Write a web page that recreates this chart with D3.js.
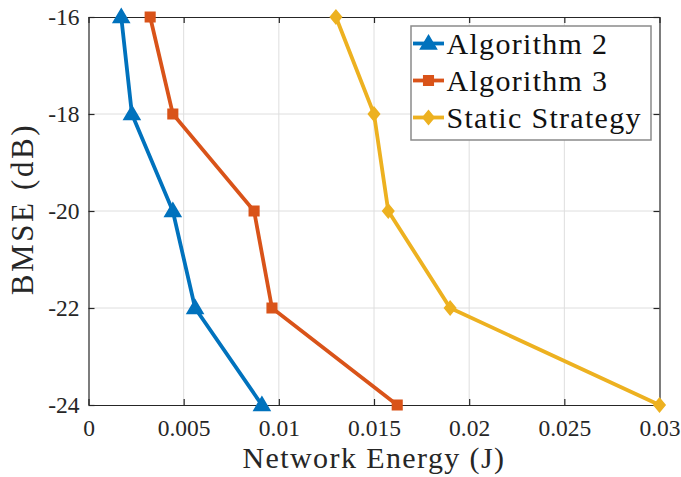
<!DOCTYPE html>
<html>
<head>
<meta charset="utf-8">
<script src="https://cdn.jsdelivr.net/npm/d3@7"></script>
</head>
<body style="margin:0;background:#fff">
<svg id="chart" width="681" height="477"></svg>
<script>
// BMSE levels (dB) shared by all curves
const bmse = [-16, -18, -20, -22, -24];
// Network energy (J) needed at each BMSE level
const alg2Energy = [0.00172, 0.00228, 0.00443, 0.0056, 0.00911];
const alg3Energy = [0.00324, 0.00443, 0.0087, 0.00964, 0.01622];
const staticEnergy = [0.0130, 0.0150, 0.01575, 0.0190, 0.0300];

const seriesNames = ["Algorithm 2", "Algorithm 3", "Static Strategy"];
const seriesColors = ["#0072BD", "#D95319", "#EDB120"];
const seriesMarkers = ["triangle", "square", "diamond"];

const xTicks = [0, 0.005, 0.01, 0.015, 0.02, 0.025, 0.03];
const xTickLabels = ["0", "0.005", "0.01", "0.015", "0.02", "0.025", "0.03"];
const yTicks = [-16, -18, -20, -22, -24];
const yTickLabels = ["-16", "-18", "-20", "-22", "-24"];

const FONT = "Liberation Serif";
const INK = "#262626";

const series = [alg2Energy, alg3Energy, staticEnergy].map((vals, i) => ({
  name: seriesNames[i],
  color: seriesColors[i],
  marker: seriesMarkers[i],
  points: vals.map((e, j) => ({ x: e, y: bmse[j] }))
}));

const svg = d3.select("#chart");
svg.append("rect").attr("width", 681).attr("height", 477).attr("fill", "#fff");

const L = 88.5, R = 659.5, T = 17, B = 405;
const x = d3.scaleLinear().domain([0, 0.03]).range([L, R]);
const y = d3.scaleLinear().domain([-24, -16]).range([B, T]);

// grid
const grid = svg.append("g").attr("stroke", "#dedede").attr("stroke-width", 1);
grid.selectAll("line.gx").data(xTicks.slice(1, -1)).join("line")
  .attr("x1", d => x(d)).attr("x2", d => x(d)).attr("y1", T).attr("y2", B);
grid.selectAll("line.gy").data(yTicks.slice(1, -1)).join("line")
  .attr("x1", L).attr("x2", R).attr("y1", d => y(d)).attr("y2", d => y(d));

// axes with inward ticks on all four sides
const tickLen = 6;
const bottomAxis = d3.axisBottom(x).tickValues(xTicks)
  .tickFormat((d, i) => xTickLabels[i]).tickSizeInner(-tickLen).tickSizeOuter(0).tickPadding(14.5);
const leftAxis = d3.axisLeft(y).tickValues(yTicks)
  .tickFormat((d, i) => yTickLabels[i]).tickSizeInner(-tickLen).tickSizeOuter(0).tickPadding(9);
const topAxis = d3.axisTop(x).tickValues(xTicks).tickFormat("").tickSizeInner(-tickLen).tickSizeOuter(0);
const rightAxis = d3.axisRight(y).tickValues(yTicks).tickFormat("").tickSizeInner(-tickLen).tickSizeOuter(0);

function styleAxis(g) {
  g.attr("font-family", FONT).attr("font-size", 23.5);
  g.select(".domain").attr("stroke", INK).attr("stroke-width", 1.2);
  g.selectAll(".tick line").attr("stroke", INK).attr("stroke-width", 1.2);
  g.selectAll(".tick text").attr("fill", INK);
}

svg.append("g").attr("transform", `translate(0,${B})`).call(bottomAxis).call(styleAxis);
svg.append("g").attr("transform", `translate(${L},0)`).call(leftAxis).call(styleAxis);
svg.append("g").attr("transform", `translate(0,${T})`).call(topAxis).call(styleAxis);
svg.append("g").attr("transform", `translate(${R},0)`).call(rightAxis).call(styleAxis);

// axis titles
svg.append("text")
  .attr("x", (L + R) / 2).attr("y", 468)
  .attr("text-anchor", "middle")
  .attr("font-family", FONT).attr("font-size", 30).attr("letter-spacing", 1.4)
  .attr("fill", INK)
  .text("Network Energy (J)");
svg.append("text")
  .attr("transform", `translate(33,${(T + B) / 2 - 2}) rotate(-90)`)
  .attr("text-anchor", "middle")
  .attr("font-family", FONT).attr("font-size", 31).attr("letter-spacing", 2.6)
  .attr("fill", INK)
  .text("BMSE (dB)");

// marker shapes
function markerPath(type) {
  if (type === "triangle") return "M0,-8L8,5.5L-8,5.5Z";
  if (type === "square") return "M-4.8,-4.8H4.8V4.8H-4.8Z";
  return "M0,-6.8L5.6,0L0,6.8L-5.6,0Z";
}

const line = d3.line().x(d => x(d.x)).y(d => y(d.y));

const plot = svg.append("g");
series.forEach(s => {
  const g = plot.append("g");
  g.append("path").datum(s.points)
    .attr("d", line)
    .attr("fill", "none")
    .attr("stroke", s.color)
    .attr("stroke-width", 3.8)
    .attr("stroke-linejoin", "miter");
  g.selectAll("path.m").data(s.points).join("path")
    .attr("class", "m")
    .attr("transform", d => `translate(${x(d.x)},${y(d.y)})`)
    .attr("d", markerPath(s.marker))
    .attr("fill", s.color)
    .attr("stroke", s.color)
    .attr("stroke-width", 1.5);
});

// legend
const legend = svg.append("g");
legend.append("rect")
  .attr("x", 411).attr("y", 26).attr("width", 240).attr("height", 114)
  .attr("fill", "#fff").attr("stroke", "#8a8a8a").attr("stroke-width", 1.5);
series.forEach((s, i) => {
  const cy = 43.5 + i * 37;
  legend.append("line")
    .attr("x1", 413).attr("x2", 444).attr("y1", cy).attr("y2", cy)
    .attr("stroke", s.color).attr("stroke-width", 3.8);
  legend.append("path")
    .attr("transform", `translate(428.5,${cy})`)
    .attr("d", markerPath(s.marker))
    .attr("fill", s.color).attr("stroke", s.color).attr("stroke-width", 1.5);
  legend.append("text")
    .attr("x", 446.5).attr("y", cy + 10)
    .attr("font-family", FONT).attr("font-size", 30).attr("letter-spacing", 1.3)
    .attr("fill", "#111")
    .text(s.name);
});
</script>
</body>
</html>
